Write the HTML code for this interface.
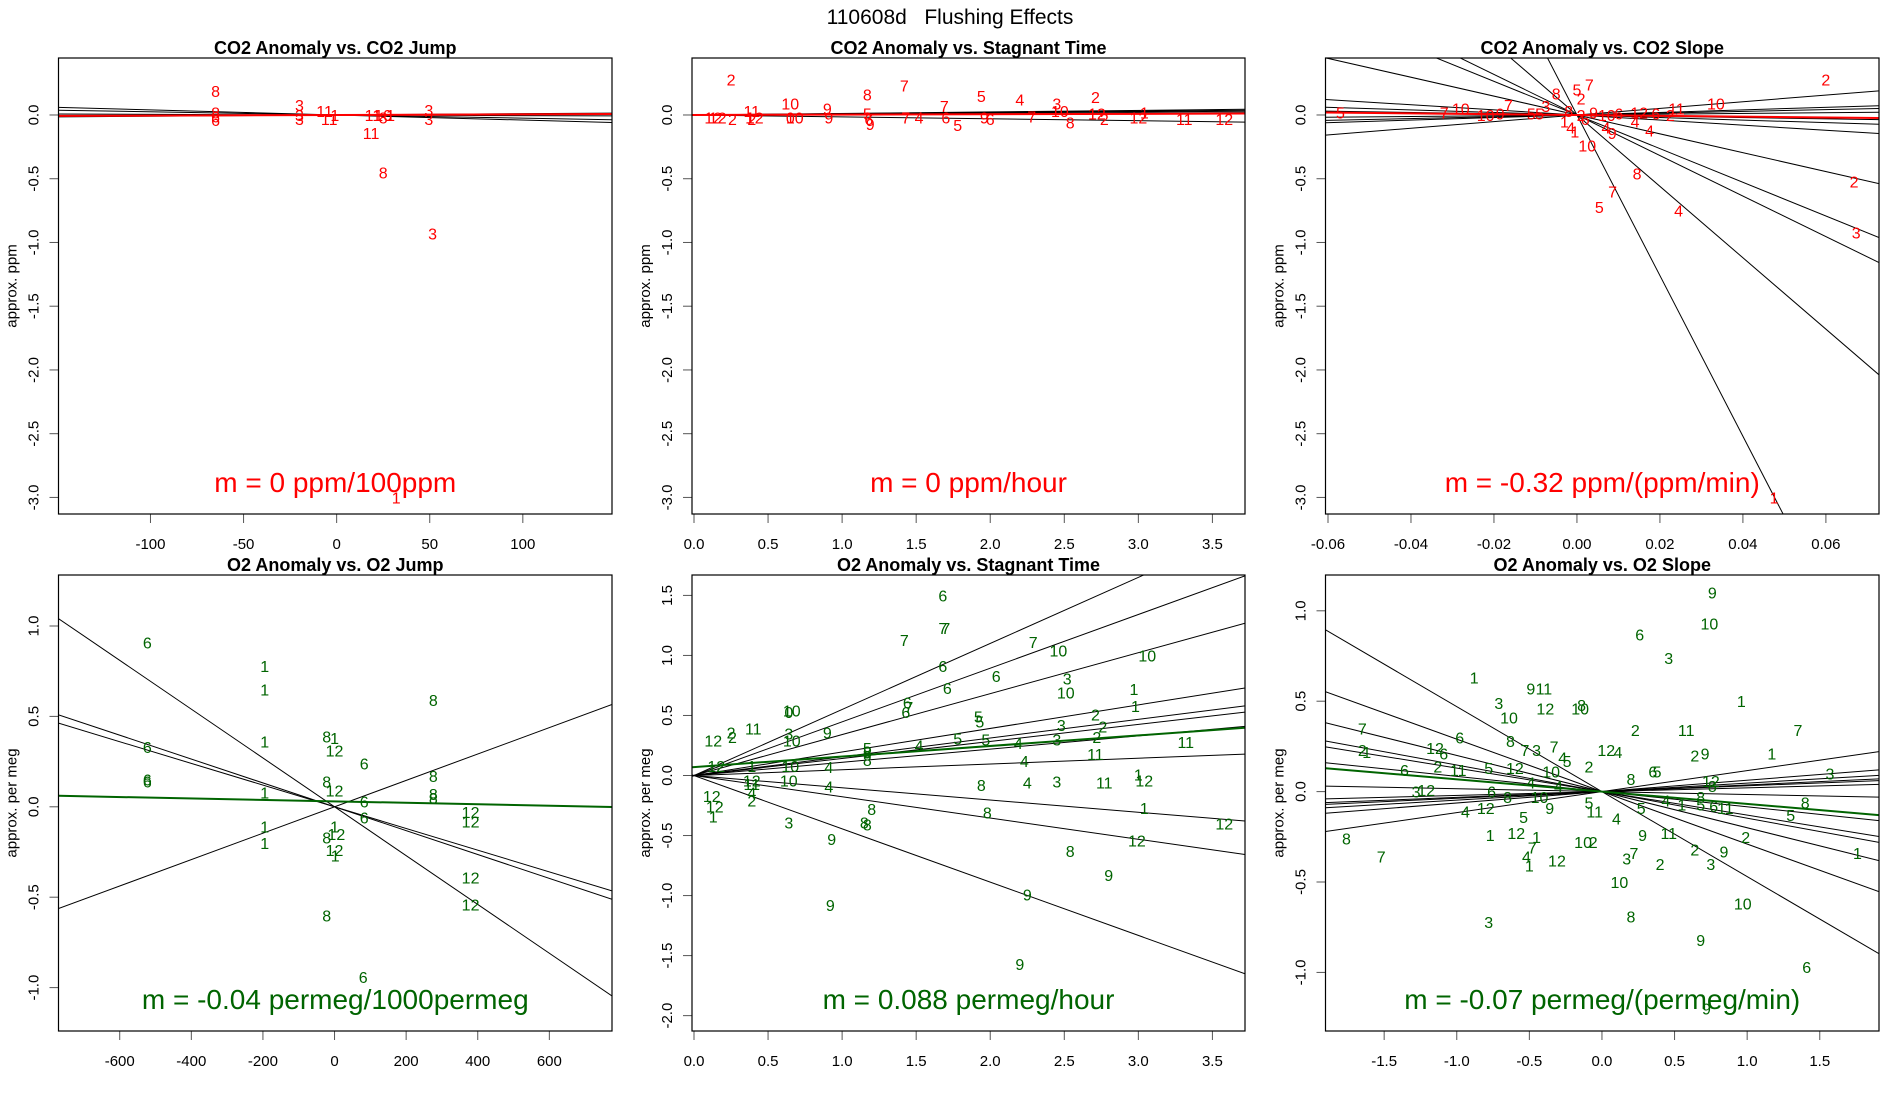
<!DOCTYPE html>
<html><head><meta charset="utf-8"><title>110608d Flushing Effects</title>
<style>
html,body{margin:0;padding:0;background:#fff;}
svg{display:block;font-family:"Liberation Sans",Arial,sans-serif;}
</style></head>
<body>
<svg id="fig" width="1900" height="1100" viewBox="0 0 1900 1100" xmlns="http://www.w3.org/2000/svg">
<rect x="0" y="0" width="1900" height="1100" fill="#fff"/>
<text x="950" y="24" text-anchor="middle" font-size="21" fill="#000" style="white-space:pre" xml:space="preserve">110608d   Flushing Effects</text>
</svg>
<script>
// ---------- Panel 1: CO2 Anomaly vs CO2 Jump ----------
const p1X = [-65,-65,-65,-65,-20,-20,-20,-6.5,-4,-1,19.5,18.5,25,25,29,25,51.5,49.5,49.5,32];
const p1Y = [0.19,0.02,-0.01,-0.04,0.08,0.0,-0.03,0.03,-0.03,0.0,0.0,-0.14,0.0,-0.02,0.0,-0.45,-0.93,0.04,-0.03,-3.0];
const p1Lab = ["8","8","6","6","3","3","3","11","11","1","11","11","10","8","1","8","3","3","3","1"];
const p1Slopes = [-0.0004,-0.00025,0.0001,-0.00005];
const p1Fit = [0.00005,0.0];
const p1XTicks = [-100,-50,0,50,100];
const p1YTicks = [0.0,-0.5,-1.0,-1.5,-2.0,-2.5,-3.0];

// ---------- Panel 2: CO2 Anomaly vs Stagnant Time ----------
const p2X = [0.25,0.13,0.16,0.26,0.39,0.375,0.39,0.41,0.65,0.65,0.68,0.9,0.91,1.17,1.17,1.18,1.19,1.42,1.43,1.52,1.69,1.7,1.78,1.94,1.96,2.0,2.2,2.28,2.45,2.47,2.54,2.71,2.72,2.77,3.04,3.0,3.31,3.58];
const p2Y = [0.28,-0.02,-0.02,-0.03,0.03,-0.02,-0.03,-0.02,0.09,-0.02,-0.02,0.05,-0.02,0.16,0.01,-0.03,-0.07,0.23,-0.02,-0.02,0.07,-0.02,-0.08,0.15,-0.02,-0.03,0.12,-0.01,0.09,0.03,-0.06,0.14,0.01,-0.03,0.02,-0.02,-0.03,-0.03];
const p2Lab = ["2","12","12","2","11","1","2","12","10","0","10","9","9","8","5","6","9","7","7","4","7","6","5","5","9","6","4","7","3","10","8","2","12","2","1","12","11","12"];
const p2Slopes = [0.01,-0.015,0.008,0.005,0.012];
const p2Fit = [0.003,0.0];
const p2XTicks = [0.0,0.5,1.0,1.5,2.0,2.5,3.0,3.5];
const p2YTicks = [0.0,-0.5,-1.0,-1.5,-2.0,-2.5,-3.0];

// ---------- Panel 3: CO2 Anomaly vs CO2 Slope ----------
const p3X = [0.06,0.0335,-0.057,-0.032,-0.028,-0.022,-0.0185,-0.0165,-0.011,-0.009,-0.005,-0.0075,0.0,0.003,0.001,-0.0005,-0.0015,0.0025,0.024,0.015,0.014,0.0175,0.0085,0.007,0.0668,0.0673,0.0145,0.0086,0.0054,0.0245,0.0475,0.0101,0.0072,0.0225,0.019,-0.002,0.002,0.004,-0.003,0.001];
const p3Y = [0.28,0.09,0.02,0.02,0.05,0.0,0.01,0.08,0.01,0.01,0.17,0.07,0.2,0.24,0.13,-0.13,-0.1,-0.24,0.05,0.02,-0.05,-0.12,-0.14,-0.1,-0.52,-0.92,-0.46,-0.6,-0.72,-0.75,-3.0,0.01,0.0,0.0,0.01,0.03,-0.03,0.02,-0.05,0.0];
const p3Lab = ["2","10","5","7","10","10","9","7","5","5","8","3","5","7","2","1","4","10","11","12","4","4","9","4","2","3","8","7","5","4","1","6","10","2","6","8","6","9","1","2"];
const p3Slopes = [2.6,0.7,0.3,-0.5,-1.0,-7.4,-13.2,-15.9,-28,-63,1.0,-2.0];
const p3Fit = [-0.32,0.0];
const p3XTicks = [-0.06,-0.04,-0.02,0.0,0.02,0.04,0.06];
const p3YTicks = [0.0,-0.5,-1.0,-1.5,-2.0,-2.5,-3.0];

// ---------- Panel 4: O2 Anomaly vs O2 Jump ----------
const p4X = [-523,-195,-195,-523,-523,-523,-195,-195,-195,-195,-22,0,0,83,-22,0,83,83,0,5,-22,0,2,-22,80,276,276,276,276,380,380,380,380];
const p4Y = [0.91,0.78,0.65,0.33,0.15,0.14,0.36,0.08,-0.11,-0.2,0.39,0.38,0.31,0.24,0.14,0.09,0.03,-0.06,-0.11,-0.15,-0.17,-0.24,-0.27,-0.6,-0.94,0.59,0.17,0.07,0.05,-0.03,-0.08,-0.39,-0.54];
const p4Lab = ["6","1","1","6","6","6","1","1","1","1","8","1","12","6","8","12","6","6","1","12","8","12","1","8","6","8","8","8","8","12","12","12","12"];
const p4Slopes = [-0.00135,-0.00066,-0.0006,0.00073];
const p4Fit = [-0.00004,0.03];
const p4XTicks = [-600,-400,-200,0,200,400,600];
const p4YTicks = [1.0,0.5,0.0,-0.5,-1.0];

// ---------- Panel 5: O2 Anomaly vs Stagnant Time ----------
const p5X = [1.68,1.7,1.68,1.42,2.29,2.46,3.06,1.68,2.04,2.52,1.71,2.51,2.97,2.98,1.44,1.45,1.43,0.66,0.64,0.13,0.25,0.26,0.4,0.64,0.66,0.9,1.92,1.93,1.78,1.97,1.17,1.17,1.52,2.19,2.45,2.48,2.71,2.76,2.72,2.71,3.32,2.23,2.25,2.45,2.77,3.0,3.04,3.04,2.99,3.58,1.94,1.98,2.54,2.8,2.25,2.2,0.92,0.93,0.64,1.15,1.17,1.2,0.91,0.91,0.64,0.65,1.17,1.17,0.12,0.14,0.13,0.15,0.39,0.39,0.39,0.39,0.39];
const p5Y = [1.5,1.23,1.23,1.13,1.11,1.04,1.0,0.91,0.83,0.81,0.73,0.69,0.72,0.58,0.61,0.57,0.53,0.54,0.53,0.29,0.36,0.32,0.39,0.35,0.29,0.36,0.49,0.45,0.31,0.3,0.23,0.19,0.25,0.27,0.3,0.42,0.51,0.41,0.32,0.18,0.28,0.12,-0.06,-0.05,-0.06,0.01,-0.04,-0.27,-0.54,-0.4,-0.08,-0.31,-0.63,-0.83,-0.99,-1.57,-1.08,-0.53,-0.39,-0.39,-0.41,-0.28,-0.09,0.07,-0.04,0.08,0.13,0.2,-0.17,-0.26,-0.34,0.08,-0.21,-0.14,-0.07,0.08,-0.04];
const p5Lab = ["6","7","7","7","7","10","10","6","6","3","6","10","1","1","6","7","6","10","0","12","2","2","11","3","10","9","5","5","5","5","5","5","4","4","3","3","2","2","2","11","11","4","4","3","11","1","12","1","12","12","8","8","8","9","9","9","9","9","3","8","8","8","4","4","10","10","8","8","12","12","1","12","2","4","11","1","12"];
const p5Slopes = [0.55,0.447,0.341,0.196,0.156,0.142,0.11,0.048,-0.102,-0.177,-0.444];
const p5Fit = [0.088,0.07];
const p5XTicks = [0.0,0.5,1.0,1.5,2.0,2.5,3.0,3.5];
const p5YTicks = [1.5,1.0,0.5,0.0,-0.5,-1.0,-1.5,-2.0];

// ---------- Panel 6: O2 Anomaly vs O2 Slope ----------
const p6X = [0.76,0.74,0.26,0.46,-0.88,-0.49,-0.4,-0.71,-0.64,-0.39,-0.15,-0.14,0.96,1.35,0.23,0.58,1.17,0.64,0.71,-1.65,-1.65,-1.62,-0.98,-0.63,-0.53,-0.45,-0.33,-0.27,-0.24,0.03,0.11,-1.15,-1.09,-1.13,-0.99,-0.78,-0.6,-0.35,-0.09,-1.36,-0.49,0.2,0.35,0.38,1.57,0.75,0.76,-1.28,-1.21,-0.76,-0.65,-0.43,-0.3,-0.36,-0.09,-0.05,0.1,0.27,0.44,0.55,0.68,0.68,0.77,0.85,1.4,1.3,1.76,0.99,0.84,0.75,0.64,0.46,0.28,0.4,0.22,0.17,-0.13,-0.06,-0.31,-0.94,-0.8,-0.54,-0.77,-0.59,-0.45,-0.48,-0.52,-0.5,0.12,0.2,-0.78,0.97,0.68,1.41,0.72,-1.76,-1.52];
const p6Y = [1.1,0.93,0.87,0.74,0.63,0.57,0.57,0.49,0.41,0.46,0.46,0.48,0.5,0.34,0.34,0.34,0.21,0.2,0.21,0.35,0.23,0.22,0.3,0.28,0.23,0.23,0.25,0.19,0.17,0.23,0.22,0.24,0.21,0.14,0.12,0.13,0.13,0.11,0.14,0.12,0.05,0.07,0.11,0.11,0.1,0.06,0.03,0.0,0.01,0.0,-0.03,-0.03,0.03,-0.09,-0.06,-0.11,-0.15,-0.09,-0.05,-0.07,-0.03,-0.07,-0.08,-0.09,-0.06,-0.13,-0.34,-0.25,-0.33,-0.4,-0.32,-0.23,-0.24,-0.4,-0.34,-0.37,-0.28,-0.28,-0.38,-0.11,-0.09,-0.14,-0.24,-0.23,-0.25,-0.31,-0.36,-0.41,-0.5,-0.69,-0.72,-0.62,-0.82,-0.97,-1.2,-0.26,-0.36];
const p6Lab = ["9","10","6","3","1","9","11","3","10","12","10","8","1","7","2","11","1","2","9","7","2","1","6","8","7","3","7","4","5","12","4","12","6","2","11","5","12","10","2","6","4","8","6","5","3","12","8","3","12","6","8","10","4","9","5","11","4","5","4","1","8","5","6","11","8","5","1","2","9","3","2","11","9","2","7","3","10","2","12","4","12","5","1","12","1","7","4","1","10","8","3","10","9","6","9","8","7"];
const p6Slopes = [-0.47,-0.29,-0.2,-0.147,-0.13,-0.084,-0.016,0.021,0.032,0.037,0.047,0.063,0.116];
const p6Fit = [-0.068,0.0];
const p6XTicks = [-1.5,-1.0,-0.5,0.0,0.5,1.0,1.5];
const p6YTicks = [1.0,0.5,0.0,-0.5,-1.0];

const NS = "http://www.w3.org/2000/svg";
const svg = document.getElementById('fig');
function mk(tag, attrs, parent){
  const e = document.createElementNS(NS, tag);
  for (const k in attrs) e.setAttribute(k, attrs[k]);
  (parent||svg).appendChild(e);
  return e;
}
function fmt(v, dec){ return v.toFixed(dec); }

function panel(cfg){
  const {id,box,xlim,ylim,xs,ys,labs,slopes,fit,xt,yt,xdec,ydec,title,ylab,col,mtext} = cfg;
  const [L,T,R,B] = box;
  const sx = v => L + (v - xlim[0]) / (xlim[1]-xlim[0]) * (R-L);
  const sy = v => B - (v - ylim[0]) / (ylim[1]-ylim[0]) * (B-T);
  const g = mk('g', {});
  
  
  const cp = mk('clipPath', {id: id+'-clip'}, g);
  mk('rect', {x:L, y:T, width:R-L, height:B-T}, cp);
  const tt = mk('text', {x:(L+R)/2, y:T-4, 'text-anchor':'middle', 'font-size':18, 'font-weight':'bold', fill:'#000'}, g);
  tt.textContent = title;
  
  
  const yl = mk('text', {x:0, y:0, transform:`translate(${L-42},${(T+B)/2}) rotate(-90)`, 'text-anchor':'middle', 'font-size':15, fill:'#000'}, g);
  yl.textContent = ylab;
  
  
  const xa = mk('g', {}, g);
  
  
  mk('line', {x1:sx(xt[0]), y1:B, x2:sx(xt[xt.length-1]), y2:B, stroke:'#000', 'stroke-width':1}, xa);
  xt.forEach(v => {
    mk('line', {x1:sx(v), y1:B, x2:sx(v), y2:B+9, stroke:'#555', 'stroke-width':1}, xa);
    const t = mk('text', {x:sx(v), y:B+35, 'text-anchor':'middle', 'font-size':15, fill:'#000'}, xa);
    t.textContent = fmt(v, xdec);
    
    
  });
  const ya = mk('g', {}, g);
  
  
  mk('line', {x1:L, y1:sy(yt[0]), x2:L, y2:sy(yt[yt.length-1]), stroke:'#000', 'stroke-width':1}, ya);
  yt.forEach(v => {
    mk('line', {x1:L-9, y1:sy(v), x2:L, y2:sy(v), stroke:'#555', 'stroke-width':1}, ya);
    const t = mk('text', {x:0, y:0, transform:`translate(${L-20},${sy(v)}) rotate(-90)`, 'text-anchor':'middle', 'font-size':15, fill:'#000'}, ya);
    t.textContent = fmt(v, ydec);
    
    
  });
  const lg = mk('g', {'clip-path':`url(#${id}-clip)`}, g);
  
  
  slopes.forEach(m => {
    const ln = mk('line', {x1:sx(xlim[0]), y1:sy(m*xlim[0]), x2:sx(xlim[1]), y2:sy(m*xlim[1]), stroke:'#000', 'stroke-width':1}, lg);
    
    
  });
  const fl = mk('line', {x1:sx(xlim[0]), y1:sy(fit[0]*xlim[0]+fit[1]), x2:sx(xlim[1]), y2:sy(fit[0]*xlim[1]+fit[1]), stroke:col, 'stroke-width':2}, lg);
  
  
  const pg = mk('g', {'clip-path':`url(#${id}-clip)`}, g);
  
  
  xs.forEach((v,i) => {
    const t = mk('text', {x:sx(v), y:sy(ys[i])+6, 'text-anchor':'middle', 'font-size':16, fill:col}, pg);
    t.textContent = labs[i];
    
    
  });
  const mt = mk('text', {x:(L+R)/2, y:B-22, 'text-anchor':'middle', 'font-size':28, fill:col}, g);
  mt.textContent = mtext;
  
  
  const bx = mk('rect', {x:L, y:T, width:R-L, height:B-T, fill:'none', stroke:'#000', 'stroke-width':1.2}, g);
  
  
}

const RED = '#ff0000', GREEN = '#006400';
panel({id:'co2-jump', box:[58.5,58,612,514], xlim:[-149.4,147.9], ylim:[-3.13,0.447], xs:p1X, ys:p1Y, labs:p1Lab, slopes:p1Slopes, fit:p1Fit, xt:p1XTicks, yt:p1YTicks, xdec:0, ydec:1, title:'CO2 Anomaly vs. CO2 Jump', ylab:'approx. ppm', col:RED, mtext:'m = 0 ppm/100ppm'});
panel({id:'co2-stagnant', box:[692,58,1245,514], xlim:[-0.0135,3.72], ylim:[-3.13,0.447], xs:p2X, ys:p2Y, labs:p2Lab, slopes:p2Slopes, fit:p2Fit, xt:p2XTicks, yt:p2YTicks, xdec:1, ydec:1, title:'CO2 Anomaly vs. Stagnant Time', ylab:'approx. ppm', col:RED, mtext:'m = 0 ppm/hour'});
panel({id:'co2-slope', box:[1325.5,58,1879,514], xlim:[-0.0606,0.0728], ylim:[-3.13,0.447], xs:p3X, ys:p3Y, labs:p3Lab, slopes:p3Slopes, fit:p3Fit, xt:p3XTicks, yt:p3YTicks, xdec:2, ydec:1, title:'CO2 Anomaly vs. CO2 Slope', ylab:'approx. ppm', col:RED, mtext:'m = -0.32 ppm/(ppm/min)'});
panel({id:'o2-jump', box:[58.5,575,612,1031], xlim:[-771,775], ylim:[-1.24,1.282], xs:p4X, ys:p4Y, labs:p4Lab, slopes:p4Slopes, fit:p4Fit, xt:p4XTicks, yt:p4YTicks, xdec:0, ydec:1, title:'O2 Anomaly vs. O2 Jump', ylab:'approx. per meg', col:GREEN, mtext:'m = -0.04 permeg/1000permeg'});
panel({id:'o2-stagnant', box:[692,575,1245,1031], xlim:[-0.0135,3.72], ylim:[-2.128,1.67], xs:p5X, ys:p5Y, labs:p5Lab, slopes:p5Slopes, fit:p5Fit, xt:p5XTicks, yt:p5YTicks, xdec:1, ydec:1, title:'O2 Anomaly vs. Stagnant Time', ylab:'approx. per meg', col:GREEN, mtext:'m = 0.088 permeg/hour'});
panel({id:'o2-slope', box:[1325.5,575,1879,1031], xlim:[-1.904,1.908], ylim:[-1.324,1.198], xs:p6X, ys:p6Y, labs:p6Lab, slopes:p6Slopes, fit:p6Fit, xt:p6XTicks, yt:p6YTicks, xdec:1, ydec:1, title:'O2 Anomaly vs. O2 Slope', ylab:'approx. per meg', col:GREEN, mtext:'m = -0.07 permeg/(permeg/min)'});
</script>
</body></html>
